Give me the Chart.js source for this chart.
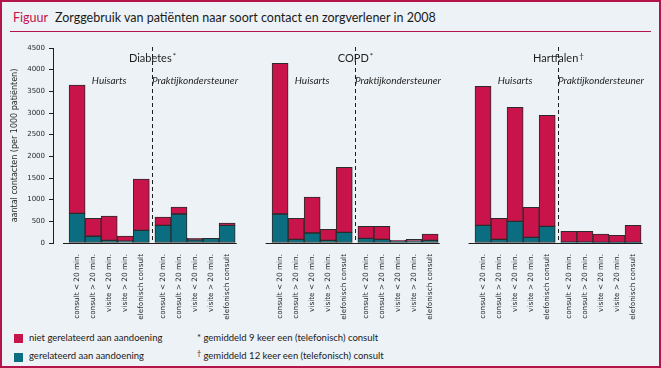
<!DOCTYPE html>
<html>
<head>
<meta charset="utf-8">
<script src="https://cdn.jsdelivr.net/npm/chart.js@4.4.1/dist/chart.umd.min.js"></script>
<style>
  body { margin: 0; }
  #frame {
    position: absolute; left: 0; top: 0; width: 661px; height: 368px;
    box-sizing: border-box; border: 2px solid #b3154b; background: #edf2f6;
  }
  #wrap { position: absolute; left: 0; top: 0; width: 661px; height: 320px; }
  .txt { position: absolute; font-family: Lato, sans-serif; color: #1a1a1a; white-space: nowrap; }
  #title { left: 13px; top: 10px; font-size: 12.5px; }
  #title span { color: #c3124c; margin-right: 7px; }
  #rule { position: absolute; left: 10px; top: 31px; width: 641px; height: 1px; background: #b3154b; }
  .sw { position: absolute; width: 9px; height: 9px; }
  .leg { font-size: 9.5px; }
  .dag { font-size: 7px; position: relative; top: -3px; }
</style>
</head>
<body>
<div id="frame"></div>
<div class="txt" id="title"><span>Figuur</span>Zorggebruik van patiënten naar soort contact en zorgverlener in 2008</div>
<div id="rule"></div>
<div id="wrap"><canvas id="myChart" width="661" height="320"></canvas></div>

<div class="sw" style="left:14px; top:334px; background:#c8144a;"></div>
<div class="txt leg" style="left:29px; top:332px;">niet gerelateerd aan aandoening</div>
<div class="sw" style="left:14px; top:353px; background:#0b6d80;"></div>
<div class="txt leg" style="left:29px; top:350px;">gerelateerd aan aandoening</div>
<div class="txt leg" style="left:197px; top:332px;">* gemiddeld 9 keer een (telefonisch) consult</div>
<div class="txt leg" style="left:197px; top:350px;"><span class="dag">†</span> gemiddeld 12 keer een (telefonisch) consult</div>

<script>
// data
const contactTypes = ['consult < 20 min.', 'consult > 20 min.', 'visite < 20 min.', 'visite > 20 min.', 'telefonisch consult'];
const providers = ['Huisarts', 'Praktijkondersteuner'];
const diseases = ['Diabetes', 'COPD', 'Hartfalen'];
const diseaseNotes = ['*', '*', '†'];
const yTicks = [0, 500, 1000, 1500, 2000, 2500, 3000, 3500, 4000, 4500];

// per disease: 5 huisarts bars then 5 praktijkondersteuner bars
const relatedDiabetes = [685, 155, 62, 40, 292, 408, 669, 75, 110, 408];
const otherDiabetes = [2961, 415, 561, 122, 1185, 192, 162, 35, 0, 54];
const relatedCopd = [669, 85, 231, 62, 246, 108, 85, 45, 40, 62];
const otherCopd = [3478, 485, 831, 254, 1500, 277, 300, 15, 45, 146];
const relatedHartfalen = [408, 85, 500, 131, 385, 20, 20, 15, 15, 15];
const otherHartfalen = [3208, 485, 2631, 692, 2561, 249, 249, 193, 162, 393];

const related = [relatedDiabetes, relatedCopd, relatedHartfalen];
const other = [otherDiabetes, otherCopd, otherHartfalen];

const RED = '#c8144a';
const TEAL = '#0b6d80';
const INK = '#1e1e1e';

// spacing on the x axis (in bar widths)
const PANEL = 12.65;
const MID_GAP = 0.35;
function barPos(p, i) {
    return p * PANEL + i + (i >= contactTypes.length ? MID_GAP : 0);
}

const xMin = -0.88;
const xMax = barPos(diseases.length - 1, 9) + 0.62;

function points(series) {
    var out = [];
    series.forEach(function(vals, p) {
        vals.forEach(function(v, i) {
            out.push({ x: barPos(p, i), y: v });
        });
    });
    return out;
}

const tickPositions = points(related).map(function(d) { return d.x; });

const panelDecor = {
    id: 'panelDecor',
    afterDatasetsDraw(chart) {
        const ctx = chart.ctx;
        const x = chart.scales.x;
        const y = chart.scales.y;
        const area = chart.chartArea;
        const y0 = Math.round(y.getPixelForValue(0)) + 0.5;
        ctx.save();
        diseases.forEach(function(name, p) {
            // axis line per panel
            const from = p === 0 ? xMin : barPos(p, 0) - 0.9;
            const to = barPos(p, 9) + 0.6;
            ctx.strokeStyle = INK;
            ctx.lineWidth = 1;
            ctx.setLineDash([]);
            ctx.beginPath();
            ctx.moveTo(x.getPixelForValue(from), y0);
            ctx.lineTo(x.getPixelForValue(to), y0);
            ctx.stroke();

            // dashed divider between the two providers
            const divX = Math.round(x.getPixelForValue((barPos(p, 4) + barPos(p, 5)) / 2)) + 0.5;
            ctx.setLineDash([4, 3]);
            ctx.beginPath();
            ctx.moveTo(divX, area.top - 1);
            ctx.lineTo(divX, area.bottom);
            ctx.stroke();

            // panel title with a small raised footnote mark
            ctx.fillStyle = INK;
            ctx.textBaseline = 'alphabetic';
            ctx.font = '11px Lato';
            const wName = ctx.measureText(name).width;
            ctx.font = '8px Lato';
            const wNote = ctx.measureText(diseaseNotes[p]).width;
            const startX = divX - (wName + wNote + 1) / 2;
            ctx.textAlign = 'left';
            ctx.font = '11px Lato';
            ctx.fillText(name, startX, 62);
            ctx.font = '8px Lato';
            ctx.fillText(diseaseNotes[p], startX + wName + 1, 59);

            ctx.textAlign = 'center';
            ctx.textBaseline = 'middle';
            ctx.font = 'italic 10px Lato';
            ctx.fillText(providers[0], x.getPixelForValue(barPos(p, 2)), 81);
            ctx.fillText(providers[1], x.getPixelForValue(barPos(p, 7)), 81);
        });
        ctx.restore();
    }
};

const ctx = document.getElementById('myChart').getContext('2d');
const myChart = new Chart(ctx, {
    type: 'bar',
    data: {
        datasets: [{
            label: 'gerelateerd aan aandoening',
            data: points(related),
            backgroundColor: TEAL,
            borderColor: '#2b2b2b',
            borderWidth: 1,
            borderSkipped: false
        }, {
            label: 'niet gerelateerd aan aandoening',
            data: points(other),
            backgroundColor: RED,
            borderColor: '#2b2b2b',
            borderWidth: 1,
            borderSkipped: false
        }]
    },
    plugins: [panelDecor],
    options: {
        responsive: false,
        animation: false,
        devicePixelRatio: 1,
        barPercentage: 1,
        categoryPercentage: 1,
        layout: { padding: { top: 48, right: 8, left: 0, bottom: 0 } },
        plugins: {
            legend: { display: false },
            tooltip: { enabled: false }
        },
        scales: {
            x: {
                type: 'linear',
                stacked: true,
                min: xMin,
                max: xMax,
                grid: { display: false },
                border: { display: false },
                afterBuildTicks: function(scale) {
                    scale.ticks = tickPositions.map(function(v) { return { value: v }; });
                },
                afterFit: function(scale) {
                    scale.height = 77;
                },
                ticks: {
                    autoSkip: false,
                    minRotation: 90,
                    maxRotation: 90,
                    padding: 3,
                    color: '#2a2a2a',
                    font: { family: 'DejaVu Sans', size: 7.3 },
                    callback: function(value, index) {
                        return contactTypes[index % contactTypes.length];
                    }
                }
            },
            y: {
                stacked: true,
                min: 0,
                max: 4500,
                afterBuildTicks: function(scale) {
                    scale.ticks = yTicks.map(function(v) { return { value: v }; });
                },
                afterFit: function(scale) {
                    scale.width = 53;
                },
                grid: { drawOnChartArea: false, drawTicks: true, tickLength: 4, color: INK },
                border: { display: true, color: INK, width: 1 },
                ticks: {
                    padding: 4,
                    color: '#2a2a2a',
                    font: { family: 'DejaVu Sans', size: 7 },
                    callback: function(value) {
                        return String(value);
                    }
                },
                title: {
                    display: true,
                    text: 'aantal contacten (per 1000 patiënten)',
                    color: '#2a2a2a',
                    font: { family: 'DejaVu Sans', size: 8 },
                    padding: { top: 10, bottom: 0 }
                }
            }
        }
    }
});
</script>
</body>
</html>
